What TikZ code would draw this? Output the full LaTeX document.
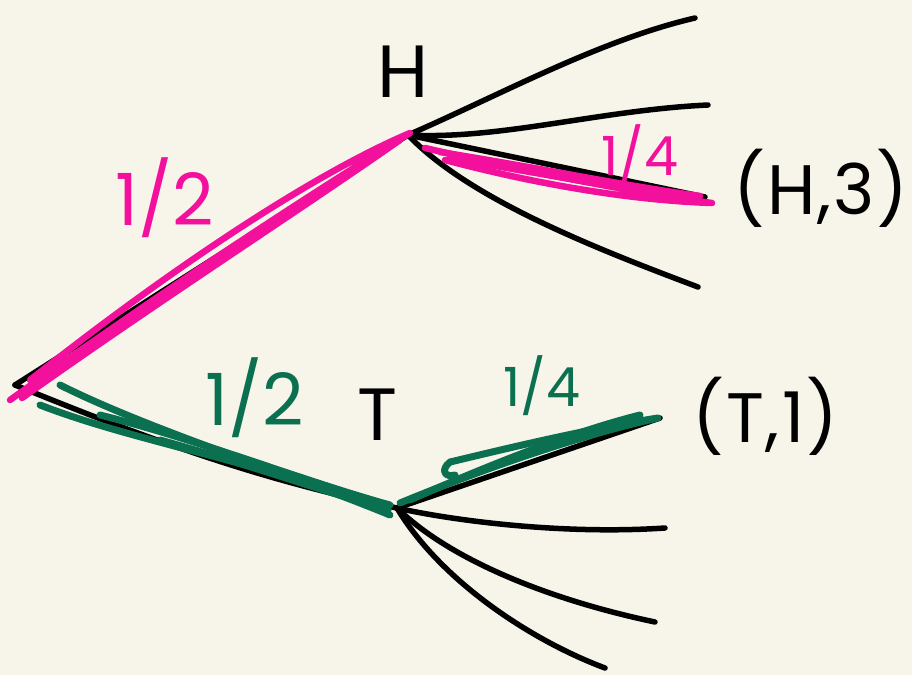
\documentclass[tikz,border=0pt]{standalone}
\usepackage{fontspec}
\setmainfont{Poppins}
\definecolor{bg}{HTML}{F7F5EA}
\definecolor{hlpink}{HTML}{F2109C}
\definecolor{hlgreen}{HTML}{0B7050}
\begin{document}
\begin{tikzpicture}[x=1pt,y=-1pt,
  edge/.style={black,line width=5.5pt,line cap=round,line join=round},
  pinkhl/.style={hlpink,line width=6.5pt,line cap=round,line join=round},
  greenhl/.style={hlgreen,line width=7pt,line cap=round,line join=round},
  lbl/.style={font=\fontsize{74}{76}\selectfont,inner sep=0pt},
  tuple/.style={font=\fontsize{70}{72}\selectfont\addfontfeatures{LetterSpace=3},inner sep=0pt},
  prob/.style={font=\fontsize{72}{74}\selectfont,inner sep=0pt},
  probsm/.style={font=\fontsize{54}{56}\selectfont,inner sep=0pt}]
\fill[bg] (0,0) rectangle (912,675);
\useasboundingbox (0,0) rectangle (912,675);
% points
\coordinate (root) at (15,385);
\coordinate (H) at (408,135);
\coordinate (T) at (397,508);
\coordinate (h1) at (695,18);
\coordinate (h2) at (708,105);
\coordinate (h3) at (705,197);
\coordinate (h4) at (698,287);
\coordinate (t1) at (660,418);
\coordinate (t2) at (665,528);
\coordinate (t3) at (655,622);
\coordinate (t4) at (605,668);
% black tree
\draw[edge] (root) -- (H);
\draw[edge] (root) .. controls (150,440) and (260,480) .. (T);
\draw[edge] (H) .. controls (500,95) and (600,40) .. (h1);
\draw[edge] (H) .. controls (500,140) and (600,110) .. (h2);
\draw[edge] (H) -- (h3);
\draw[edge] (H) .. controls (470,200) and (600,250) .. (h4);
\draw[edge] (T) -- (t1);
\draw[edge] (T) .. controls (450,520) and (560,535) .. (t2);
\draw[edge] (T) .. controls (450,560) and (550,600) .. (t3);
\draw[edge] (T) .. controls (440,580) and (530,640) .. (t4);
% pink highlights
\draw[pinkhl] (10,400) .. controls (150,300) and (300,200) .. (410,133)
  .. controls (300,180) and (150,285) .. (30,380);
\draw[pinkhl] (22,398) .. controls (160,300) and (300,210) .. (400,140);
\draw[pinkhl] (425,148) .. controls (520,170) and (620,190) .. (712,203)
  .. controls (620,200) and (520,180) .. (445,160);
\draw[pinkhl] (450,158) -- (690,200);
\draw[pinkhl] (440,152) .. controls (540,168) and (620,185) .. (700,196);
% green highlights
\draw[greenhl] (60,385) .. controls (150,430) and (280,470) .. (390,515);
\draw[greenhl] (40,405) .. controls (130,440) and (250,460) .. (385,508);
\draw[greenhl] (100,415) .. controls (200,440) and (300,480) .. (390,505);
\draw[greenhl] (160,440) .. controls (250,465) and (320,490) .. (388,510);
\draw[greenhl] (400,503) .. controls (480,470) and (580,435) .. (658,418)
  .. controls (580,430) and (480,455) .. (450,462) .. controls (440,470) and (445,478) .. (455,475);
\draw[greenhl] (410,500) .. controls (500,460) and (580,430) .. (640,415);
% labels
\node[lbl] (labH) at (403,72) {H};
\node[lbl] (labT) at (378,415) {T};
\node[tuple,anchor=west] (resH) at (733,188) {(H,3)};
\node[tuple,anchor=west] (resT) at (692,416) {(T,1)};
\node[prob,text=hlpink] (pH) at (165,198) {1/2};
\node[prob,text=hlgreen] (pT) at (255,398) {1/2};
\node[probsm,text=hlpink] (pH3) at (640,155) {1/4};
\node[probsm,text=hlgreen] (pT1) at (542,386) {1/4};
\end{tikzpicture}
\end{document}
